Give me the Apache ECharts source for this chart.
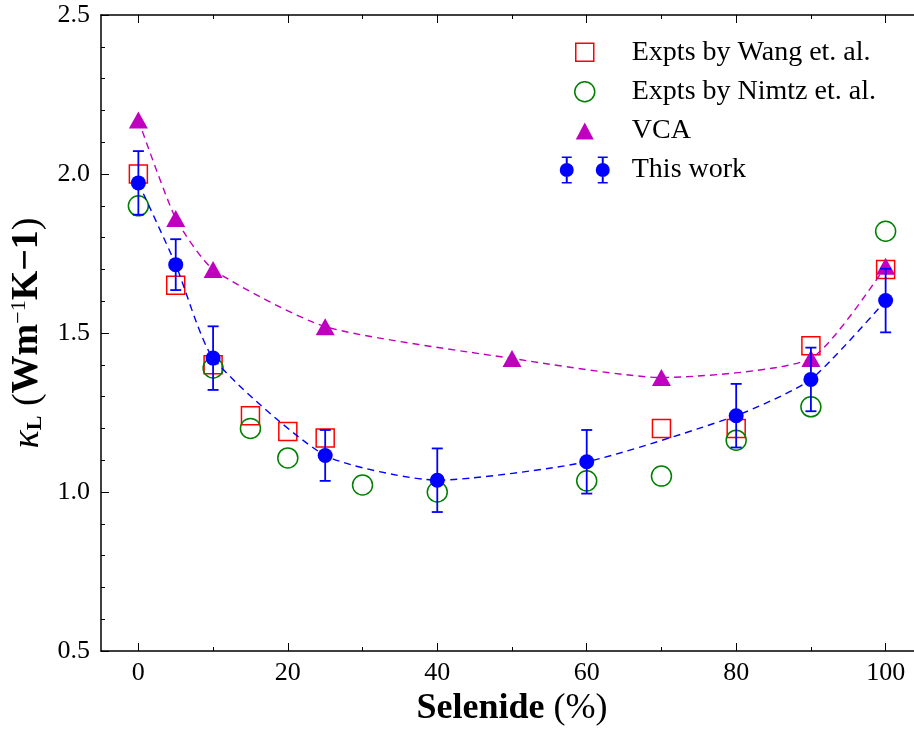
<!DOCTYPE html>
<html>
<head>
<meta charset="utf-8">
<script src="https://cdn.jsdelivr.net/npm/echarts@6/dist/echarts.min.js"></script>
<style>
  html, body, #main { width: 914px; height: 729px; margin: 0; background: #fff; }
</style>
</head>
<body>
<div id="main"></div>
<script>
// data
var wangX = [0, 5, 10, 15, 20, 25, 70, 80, 90, 100];
var wangY = [2.00, 1.65, 1.40, 1.24, 1.19, 1.17, 1.20, 1.20, 1.46, 1.70];
var nimtzX = [0, 10, 15, 20, 30, 40, 60, 70, 80, 90, 100];
var nimtzY = [1.90, 1.39, 1.20, 1.107, 1.022, 1.00, 1.035, 1.05, 1.163, 1.268, 1.82];
var vcaX = [0, 5, 10, 25, 50, 70, 90, 100];
var vcaY = [2.17, 1.86, 1.70, 1.52, 1.42, 1.36, 1.42, 1.71];
var workX = [0, 5, 10, 25, 40, 60, 80, 90, 100];
var workY = [1.972, 1.715, 1.421, 1.115, 1.037, 1.095, 1.24, 1.354, 1.602];
var workErr = [0.1, 0.08, 0.1, 0.08, 0.1, 0.1, 0.1, 0.1, 0.1];
var majorX = [0, 20, 40, 60, 80, 100];
var minorX = [10, 30, 50, 70, 90];
var legendNames = ['Expts by Wang et. al.', 'Expts by Nimtz et. al.', 'VCA', 'This work'];

var FONT = 'Liberation Serif';

function pairs(xs, ys) {
    return xs.map(function (x, i) { return [x, ys[i]]; });
}

var chart = echarts.init(document.getElementById('main'));

// axis helper: bottom/top, major/minor ticks
function xAx(pos, ticks, len, withLine, withLabel) {
    return {
        type: 'value', position: pos, min: -5, max: 105,
        axisLine: { show: withLine, onZero: false, lineStyle: { color: '#000', width: 1.5 } },
        axisTick: { show: true, inside: true, length: len, customValues: ticks,
                    lineStyle: { color: '#000', width: 1 } },
        axisLabel: withLabel ? { show: true, customValues: ticks, margin: 9,
                    color: '#000', fontFamily: FONT, fontSize: 26 } : { show: false },
        splitLine: { show: false }
    };
}

var xMain = xAx('bottom', majorX, 8, true, true);
xMain.name = '{b|Selenide}{n| (%)}';
xMain.nameLocation = 'middle';
xMain.nameGap = 40;
xMain.nameTextStyle = {
    rich: {
        b: { fontFamily: FONT, fontWeight: 'bold', fontSize: 36, color: '#000' },
        n: { fontFamily: FONT, fontSize: 36, color: '#000' }
    }
};

// legend icons, all in a 68x27 box so they line up
var iconSquare = 'path://M0,0M68,27M17,4.5h18v18h-18z';
var iconCircle = 'path://M0,0M68,27M16,13.5a10,10 0 1,1 20,0a10,10 0 1,1 -20,0z';
var iconTri = 'path://M0,0M68,27M26,5L35,22L17,22z';
var iconErr = 'path://M0,0M68,27' +
    'M1,13.5a7,7 0 1,1 14,0a7,7 0 1,1 -14,0z' +
    'M37,13.5a7,7 0 1,1 14,0a7,7 0 1,1 -14,0z' +
    'M7,0h2v27h-2z M3,0h10v1.5h-10z M3,25.5h10v1.5h-10z' +
    'M43,0h2v27h-2z M39,0h10v1.5h-10z M39,25.5h10v1.5h-10z';

chart.setOption({
    animation: false,
    backgroundColor: '#fff',
    grid: { left: 101, right: -9, top: 15, bottom: 78, outerBoundsMode: 'none', containLabel: false },
    legend: {
        orient: 'vertical', left: 553, top: 33,
        itemWidth: 68, itemHeight: 27, itemGap: 11,
        selectedMode: false,
        textStyle: { fontFamily: FONT, fontSize: 28, color: '#000', lineHeight: 27 },
        data: [
            { name: legendNames[0], icon: iconSquare,
              itemStyle: { color: 'rgba(0,0,0,0)', borderColor: '#ff0000', borderWidth: 1.5, opacity: 1 } },
            { name: legendNames[1], icon: iconCircle,
              itemStyle: { color: 'rgba(0,0,0,0)', borderColor: '#008000', borderWidth: 1.5, opacity: 1 } },
            { name: legendNames[2], icon: iconTri,
              itemStyle: { color: '#bf00bf', borderWidth: 0, opacity: 1 } },
            { name: legendNames[3], icon: iconErr,
              itemStyle: { color: '#0000ff', borderWidth: 0, opacity: 1 } }
        ]
    },
    xAxis: [
        xMain,
        xAx('bottom', minorX, 4, false, false),
        xAx('top', majorX, 8, true, false),
        xAx('top', minorX, 4, false, false)
    ],
    yAxis: {
        type: 'value', min: 0.5, max: 2.5, interval: 0.5,
        axisLine: { show: true, onZero: false, lineStyle: { color: '#000', width: 1.5 } },
        axisTick: { show: true, inside: true, length: 8, lineStyle: { color: '#000' } },
        minorTick: { show: true, splitNumber: 5, length: 4, lineStyle: { color: '#000' } },
        axisLabel: { color: '#000', fontFamily: FONT, fontSize: 26, margin: 11,
                     formatter: function (v) { return v.toFixed(1); } },
        splitLine: { show: false },
        name: '{k|κ}{s|L}{p| (}{b|Wm}{u|−1}{b|K−1}{p|)}',
        nameLocation: 'middle', nameGap: 50, nameRotate: 90,
        nameTextStyle: {
            rich: {
                k: { fontFamily: FONT, fontStyle: 'italic', fontSize: 38, lineHeight: 38, color: '#000' },
                s: { fontFamily: FONT, fontWeight: 'bold', fontSize: 22, lineHeight: 16, verticalAlign: 'bottom', color: '#000' },
                p: { fontFamily: FONT, fontSize: 38, lineHeight: 38, color: '#000' },
                b: { fontFamily: FONT, fontWeight: 'bold', fontSize: 38, lineHeight: 38, color: '#000' },
                u: { fontFamily: FONT, fontSize: 22, lineHeight: 16, verticalAlign: 'top', color: '#000' }
            }
        }
    },
    series: [
        {
            name: legendNames[0], type: 'scatter', z: 3,
            symbol: 'rect', symbolSize: 18,
            itemStyle: { color: 'rgba(0,0,0,0)', borderColor: '#ff0000', borderWidth: 1.5, opacity: 1 },
            data: pairs(wangX, wangY)
        },
        {
            name: legendNames[1], type: 'scatter', z: 4,
            symbol: 'circle', symbolSize: 20,
            itemStyle: { color: 'rgba(0,0,0,0)', borderColor: '#008000', borderWidth: 1.5, opacity: 1 },
            data: pairs(nimtzX, nimtzY)
        },
        {
            name: 'vca-line', type: 'line', z: 5, smooth: 0.2,
            symbol: 'none',
            lineStyle: { color: '#bf00bf', width: 1.4, type: [7, 5] },
            data: pairs(vcaX, vcaY)
        },
        {
            name: legendNames[2], type: 'scatter', z: 6,
            symbol: 'triangle', symbolSize: [19, 17],
            itemStyle: { color: '#bf00bf', opacity: 1 },
            data: pairs(vcaX, vcaY)
        },
        {
            name: 'work-line', type: 'line', z: 7, smooth: 0.2,
            symbol: 'none',
            lineStyle: { color: '#0000ff', width: 1.4, type: [7, 5] },
            data: pairs(workX, workY)
        },
        {
            name: 'work-err', type: 'custom', z: 8,
            data: workX.map(function (x, i) { return [x, workY[i] - workErr[i], workY[i] + workErr[i]]; }),
            encode: { x: 0, y: [1, 2] },
            renderItem: function (params, api) {
                var x = api.value(0);
                var lo = api.coord([x, api.value(1)]);
                var hi = api.coord([x, api.value(2)]);
                var c = 5.5;
                var st = { stroke: '#0000ff', lineWidth: 1.8 };
                return {
                    type: 'group',
                    children: [
                        { type: 'line', shape: { x1: lo[0], y1: lo[1], x2: hi[0], y2: hi[1] }, style: st },
                        { type: 'line', shape: { x1: lo[0] - c, y1: lo[1], x2: lo[0] + c, y2: lo[1] }, style: st },
                        { type: 'line', shape: { x1: hi[0] - c, y1: hi[1], x2: hi[0] + c, y2: hi[1] }, style: st }
                    ]
                };
            }
        },
        {
            name: legendNames[3], type: 'scatter', z: 9,
            symbol: 'circle', symbolSize: 15,
            itemStyle: { color: '#0000ff', opacity: 1 },
            data: pairs(workX, workY)
        }
    ]
});
</script>
</body>
</html>
